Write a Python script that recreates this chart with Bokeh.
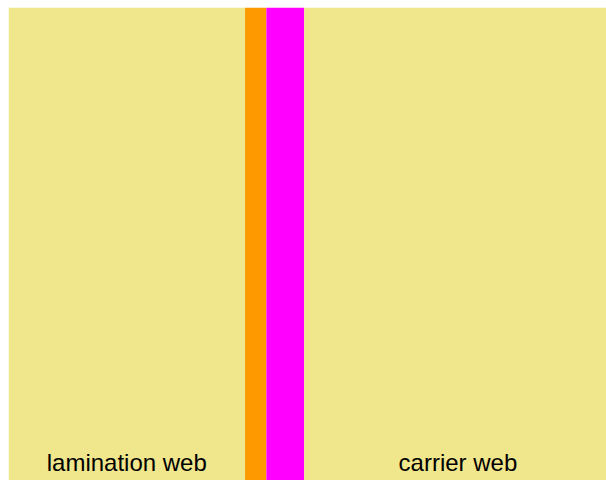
from bokeh.plotting import figure
from bokeh.models import Range1d, ColumnDataSource
from bokeh.core.properties import value
from bokeh.embed import file_html
from bokeh.resources import INLINE
import numpy as np

# layer data (thickness, arbitrary units)
layers = ["lamination web", "adhesive", "print", "carrier web"]
thickness = [50, 4.5, 8, 65]
colors = ["#F0E68C", "#FF9900", "#FF00FF", "#F0E68C"]
labels = ["lamination web", "", "", "carrier web"]

right = np.cumsum(thickness)
left = right - np.array(thickness)
center = (left + right) / 2

FRAME_H = 473
label_y = 18 / FRAME_H

src = ColumnDataSource(dict(left=left, right=right, bottom=[0] * 4, top=[1] * 4,
                            color=colors, center=center, label=labels, y=[label_y] * 4))

p = figure(width=606, height=480, output_backend="svg", toolbar_location=None,
           x_range=Range1d(0, 126.4), y_range=Range1d(0, 1),
           min_border_left=8, min_border_top=7, min_border_right=0, min_border_bottom=0)
p.axis.visible = False
p.grid.visible = False
p.outline_line_color = None
p.background_fill_color = "white"
p.border_fill_color = "white"

p.quad(left="left", right="right", bottom="bottom", top="top", fill_color="color",
       line_color=None, source=src)
p.text(x="center", y="y", text="label", source=src, text_align="center",
       text_baseline="alphabetic", text_font=value("Liberation Sans"),
       text_font_size="24px", text_color="black")

open("out.html", "w").write(file_html(p, INLINE))
